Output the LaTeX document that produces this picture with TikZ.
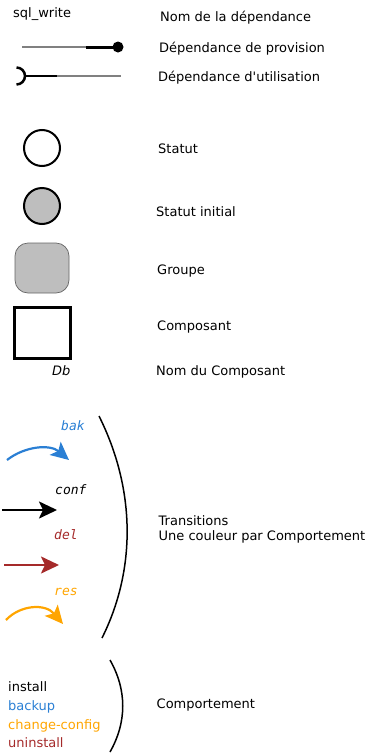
\documentclass[tikz,border=0pt]{standalone}
\usepackage{fontspec}
\setmainfont{DejaVu Sans}
\setmonofont{DejaVu Sans Mono}
\usetikzlibrary{arrows.meta}
\definecolor{tblue}{HTML}{2A7FD4}
\definecolor{tbrown}{HTML}{A52A2A}
\definecolor{torange}{HTML}{FFA500}
\definecolor{lgray}{HTML}{BEBEBE}
\begin{document}
\begin{tikzpicture}[x=1pt,y=-1pt,
  lbl/.style={anchor=base west,inner sep=0pt,font=\fontsize{13}{15}\selectfont},
  tlbl/.style={anchor=base west,inner sep=0pt,font=\fontsize{13}{15}\selectfont\ttfamily\itshape},
  arr/.style={line width=2.2pt,-{Stealth[length=18pt,width=17pt,inset=4pt]}},
  bigarc/.style={line width=1.5pt}]
\useasboundingbox (0,0) rectangle (370,755);
% legend of dependencies
\node[lbl] (sql) at (13,17.5) {sql\_write};
\node[lbl] (nomdep) at (160,21) {Nom de la dépendance};
\coordinate (p1) at (22,47);
\coordinate (p2) at (86,47);
\coordinate (p3) at (118,47);
\draw[gray,line width=1.5pt] (p1) -- (p2);
\draw[line width=3pt] (p2) -- (p3);
\fill (p3) circle (5.5);
\node[lbl] (prov) at (159,52) {Dépendance de provision};
\coordinate (u0) at (25,76);
\coordinate (u1) at (57,76);
\coordinate (u2) at (121,76);
\draw[line width=2.5pt] (16.5,67.5) arc (-90:90:8.5);
\draw[line width=2.5pt] (u0) -- (u1);
\draw[gray,line width=1.5pt] (u1) -- (u2);
\node[lbl] (util) at (158,81) {Dépendance d\textquotesingle utilisation};
% states
\node[circle,draw,line width=2pt,minimum size=36pt,inner sep=0pt] (st) at (42,148) {};
\node[lbl] (stl) at (158,153.3) {Statut};
\node[circle,draw,fill=lgray,line width=2pt,minimum size=36pt,inner sep=0pt] (sti) at (42,206) {};
\node[lbl] (stil) at (156,216) {Statut initial};
\node[draw=black!60,fill=lgray,rounded corners=13pt,line width=0.7pt,minimum width=54pt,minimum height=50pt,inner sep=0pt] (grp) at (42,268) {};
\node[lbl] (grpl) at (157,274) {Groupe};
\node[draw,line width=3pt,minimum width=56pt,minimum height=51pt,inner sep=0pt] (cmp) at (42,332.5) {};
\node[lbl] (cmpl) at (157,330.7) {Composant};
\node[lbl,font=\fontsize{13}{15}\selectfont\itshape] (db) at (52,375) {Db};
\node[lbl] (nomc) at (156,375) {Nom du Composant};
% transitions
\node[tlbl,text=tblue] (bak) at (61,430) {bak};
\coordinate (b0) at (7,460);
\coordinate (b1) at (69,460);
\draw[arr,tblue] (b0) .. controls (25,446) and (50,444) .. (b1);
\node[tlbl] (conf) at (55,494) {conf};
\coordinate (c0) at (2,510);
\coordinate (c1) at (57,510);
\draw[arr,black] (c0) -- (c1);
\node[tlbl,text=tbrown] (del) at (54,539.3) {del};
\coordinate (d0) at (4,565);
\coordinate (d1) at (59,565);
\draw[arr,tbrown] (d0) -- (d1);
\node[tlbl,text=torange] (res) at (54,595) {res};
\coordinate (r0) at (6,620);
\coordinate (r1) at (63,624);
\draw[arr,torange] (r0) .. controls (20,605) and (45,603) .. (r1);
\coordinate (a0) at (99,416);
\coordinate (a1) at (102,638);
\draw[bigarc] (a0) .. controls (136,490) and (136,570) .. (a1);
\node[lbl] (tr1) at (158.5,525) {Transitions};
\node[lbl] (tr2) at (158.5,540) {Une couleur par Comportement};
% behaviours
\node[lbl] (ins) at (8,691.7) {install};
\node[lbl,text=tblue] (bck) at (8,710) {backup};
\node[lbl,text=torange] (chg) at (8,729) {change-config};
\node[lbl,text=tbrown] (uni) at (8,747.3) {uninstall};
\coordinate (k0) at (110,660);
\coordinate (k1) at (110,752);
\draw[bigarc] (k0) .. controls (127,690) and (127,722) .. (k1);
\node[lbl] (comp) at (156.5,708.3) {Comportement};
\end{tikzpicture}
\end{document}
